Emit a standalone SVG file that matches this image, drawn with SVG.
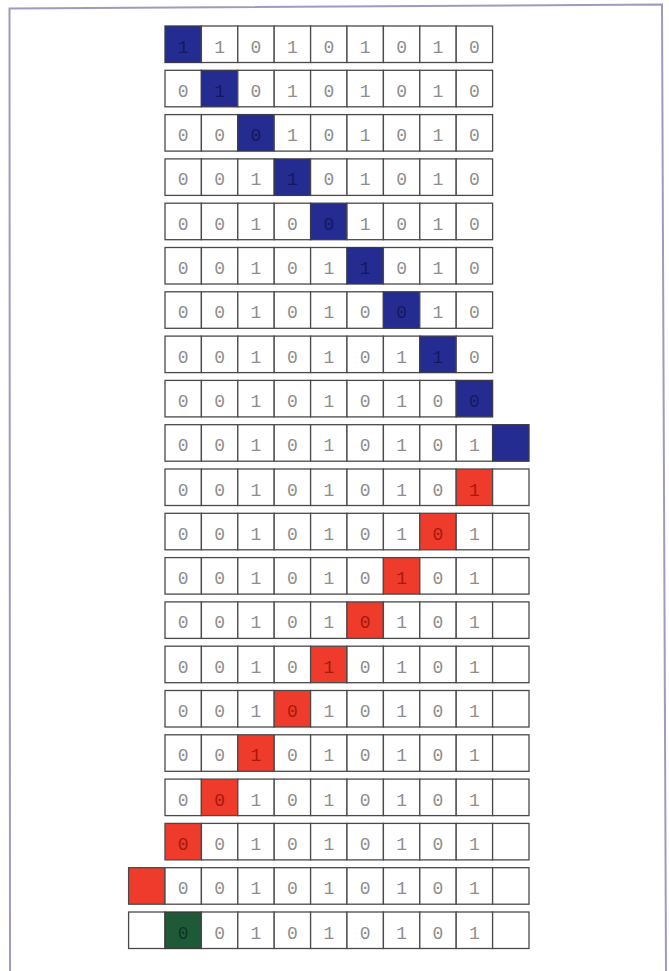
<svg xmlns="http://www.w3.org/2000/svg" width="669" height="971" viewBox="0 0 669 971">
<style>
.c{fill:#fff;stroke:#4a4a4a;stroke-width:1.3}
.b{fill:#242c92;stroke:#3a3a4a;stroke-width:1.3}
.r{fill:#ee3b2b;stroke:#4a4a4a;stroke-width:1.3}
.g{fill:#1f5a38;stroke:#3a3a3a;stroke-width:1.3}
text{font-family:"Liberation Mono","DejaVu Sans Mono",monospace;font-size:18px;fill:#8e8e8e;text-anchor:middle}
text.tb{fill:#14195e}
text.tr{fill:#a8180c}
text.tg{fill:#0e3520}
</style>
<rect width="669" height="971" fill="#fff"/>
<path id="frame" d="M10,971 L9.5,8.5 L662,4.5 L666,971" fill="none" stroke="#9c9cc0" stroke-width="2"/>
<g id="rows">
<g id="row-0" transform="translate(0,26)">
<rect class="b" x="165" y="0" width="36.4" height="36.5"/><rect class="c" x="201.4" y="0" width="36.4" height="36.5"/><rect class="c" x="237.8" y="0" width="36.4" height="36.5"/><rect class="c" x="274.2" y="0" width="36.4" height="36.5"/><rect class="c" x="310.6" y="0" width="36.4" height="36.5"/><rect class="c" x="347" y="0" width="36.4" height="36.5"/><rect class="c" x="383.4" y="0" width="36.4" height="36.5"/><rect class="c" x="419.8" y="0" width="36.4" height="36.5"/><rect class="c" x="456.2" y="0" width="36.4" height="36.5"/>
<text class="tb" x="183.2" y="26.5">1</text><text x="219.6" y="26.5">1</text><text x="256" y="26.5">0</text><text x="292.4" y="26.5">1</text><text x="328.8" y="26.5">0</text><text x="365.2" y="26.5">1</text><text x="401.6" y="26.5">0</text><text x="438" y="26.5">1</text><text x="474.4" y="26.5">0</text>
</g>
<g id="row-1" transform="translate(0,70.3)">
<rect class="c" x="165" y="0" width="36.4" height="36.5"/><rect class="b" x="201.4" y="0" width="36.4" height="36.5"/><rect class="c" x="237.8" y="0" width="36.4" height="36.5"/><rect class="c" x="274.2" y="0" width="36.4" height="36.5"/><rect class="c" x="310.6" y="0" width="36.4" height="36.5"/><rect class="c" x="347" y="0" width="36.4" height="36.5"/><rect class="c" x="383.4" y="0" width="36.4" height="36.5"/><rect class="c" x="419.8" y="0" width="36.4" height="36.5"/><rect class="c" x="456.2" y="0" width="36.4" height="36.5"/>
<text x="183.2" y="26.5">0</text><text class="tb" x="219.6" y="26.5">1</text><text x="256" y="26.5">0</text><text x="292.4" y="26.5">1</text><text x="328.8" y="26.5">0</text><text x="365.2" y="26.5">1</text><text x="401.6" y="26.5">0</text><text x="438" y="26.5">1</text><text x="474.4" y="26.5">0</text>
</g>
<g id="row-2" transform="translate(0,114.6)">
<rect class="c" x="165" y="0" width="36.4" height="36.5"/><rect class="c" x="201.4" y="0" width="36.4" height="36.5"/><rect class="b" x="237.8" y="0" width="36.4" height="36.5"/><rect class="c" x="274.2" y="0" width="36.4" height="36.5"/><rect class="c" x="310.6" y="0" width="36.4" height="36.5"/><rect class="c" x="347" y="0" width="36.4" height="36.5"/><rect class="c" x="383.4" y="0" width="36.4" height="36.5"/><rect class="c" x="419.8" y="0" width="36.4" height="36.5"/><rect class="c" x="456.2" y="0" width="36.4" height="36.5"/>
<text x="183.2" y="26.5">0</text><text x="219.6" y="26.5">0</text><text class="tb" x="256" y="26.5">0</text><text x="292.4" y="26.5">1</text><text x="328.8" y="26.5">0</text><text x="365.2" y="26.5">1</text><text x="401.6" y="26.5">0</text><text x="438" y="26.5">1</text><text x="474.4" y="26.5">0</text>
</g>
<g id="row-3" transform="translate(0,158.9)">
<rect class="c" x="165" y="0" width="36.4" height="36.5"/><rect class="c" x="201.4" y="0" width="36.4" height="36.5"/><rect class="c" x="237.8" y="0" width="36.4" height="36.5"/><rect class="b" x="274.2" y="0" width="36.4" height="36.5"/><rect class="c" x="310.6" y="0" width="36.4" height="36.5"/><rect class="c" x="347" y="0" width="36.4" height="36.5"/><rect class="c" x="383.4" y="0" width="36.4" height="36.5"/><rect class="c" x="419.8" y="0" width="36.4" height="36.5"/><rect class="c" x="456.2" y="0" width="36.4" height="36.5"/>
<text x="183.2" y="26.5">0</text><text x="219.6" y="26.5">0</text><text x="256" y="26.5">1</text><text class="tb" x="292.4" y="26.5">1</text><text x="328.8" y="26.5">0</text><text x="365.2" y="26.5">1</text><text x="401.6" y="26.5">0</text><text x="438" y="26.5">1</text><text x="474.4" y="26.5">0</text>
</g>
<g id="row-4" transform="translate(0,203.2)">
<rect class="c" x="165" y="0" width="36.4" height="36.5"/><rect class="c" x="201.4" y="0" width="36.4" height="36.5"/><rect class="c" x="237.8" y="0" width="36.4" height="36.5"/><rect class="c" x="274.2" y="0" width="36.4" height="36.5"/><rect class="b" x="310.6" y="0" width="36.4" height="36.5"/><rect class="c" x="347" y="0" width="36.4" height="36.5"/><rect class="c" x="383.4" y="0" width="36.4" height="36.5"/><rect class="c" x="419.8" y="0" width="36.4" height="36.5"/><rect class="c" x="456.2" y="0" width="36.4" height="36.5"/>
<text x="183.2" y="26.5">0</text><text x="219.6" y="26.5">0</text><text x="256" y="26.5">1</text><text x="292.4" y="26.5">0</text><text class="tb" x="328.8" y="26.5">0</text><text x="365.2" y="26.5">1</text><text x="401.6" y="26.5">0</text><text x="438" y="26.5">1</text><text x="474.4" y="26.5">0</text>
</g>
<g id="row-5" transform="translate(0,247.5)">
<rect class="c" x="165" y="0" width="36.4" height="36.5"/><rect class="c" x="201.4" y="0" width="36.4" height="36.5"/><rect class="c" x="237.8" y="0" width="36.4" height="36.5"/><rect class="c" x="274.2" y="0" width="36.4" height="36.5"/><rect class="c" x="310.6" y="0" width="36.4" height="36.5"/><rect class="b" x="347" y="0" width="36.4" height="36.5"/><rect class="c" x="383.4" y="0" width="36.4" height="36.5"/><rect class="c" x="419.8" y="0" width="36.4" height="36.5"/><rect class="c" x="456.2" y="0" width="36.4" height="36.5"/>
<text x="183.2" y="26.5">0</text><text x="219.6" y="26.5">0</text><text x="256" y="26.5">1</text><text x="292.4" y="26.5">0</text><text x="328.8" y="26.5">1</text><text class="tb" x="365.2" y="26.5">1</text><text x="401.6" y="26.5">0</text><text x="438" y="26.5">1</text><text x="474.4" y="26.5">0</text>
</g>
<g id="row-6" transform="translate(0,291.8)">
<rect class="c" x="165" y="0" width="36.4" height="36.5"/><rect class="c" x="201.4" y="0" width="36.4" height="36.5"/><rect class="c" x="237.8" y="0" width="36.4" height="36.5"/><rect class="c" x="274.2" y="0" width="36.4" height="36.5"/><rect class="c" x="310.6" y="0" width="36.4" height="36.5"/><rect class="c" x="347" y="0" width="36.4" height="36.5"/><rect class="b" x="383.4" y="0" width="36.4" height="36.5"/><rect class="c" x="419.8" y="0" width="36.4" height="36.5"/><rect class="c" x="456.2" y="0" width="36.4" height="36.5"/>
<text x="183.2" y="26.5">0</text><text x="219.6" y="26.5">0</text><text x="256" y="26.5">1</text><text x="292.4" y="26.5">0</text><text x="328.8" y="26.5">1</text><text x="365.2" y="26.5">0</text><text class="tb" x="401.6" y="26.5">0</text><text x="438" y="26.5">1</text><text x="474.4" y="26.5">0</text>
</g>
<g id="row-7" transform="translate(0,336.1)">
<rect class="c" x="165" y="0" width="36.4" height="36.5"/><rect class="c" x="201.4" y="0" width="36.4" height="36.5"/><rect class="c" x="237.8" y="0" width="36.4" height="36.5"/><rect class="c" x="274.2" y="0" width="36.4" height="36.5"/><rect class="c" x="310.6" y="0" width="36.4" height="36.5"/><rect class="c" x="347" y="0" width="36.4" height="36.5"/><rect class="c" x="383.4" y="0" width="36.4" height="36.5"/><rect class="b" x="419.8" y="0" width="36.4" height="36.5"/><rect class="c" x="456.2" y="0" width="36.4" height="36.5"/>
<text x="183.2" y="26.5">0</text><text x="219.6" y="26.5">0</text><text x="256" y="26.5">1</text><text x="292.4" y="26.5">0</text><text x="328.8" y="26.5">1</text><text x="365.2" y="26.5">0</text><text x="401.6" y="26.5">1</text><text class="tb" x="438" y="26.5">1</text><text x="474.4" y="26.5">0</text>
</g>
<g id="row-8" transform="translate(0,380.4)">
<rect class="c" x="165" y="0" width="36.4" height="36.5"/><rect class="c" x="201.4" y="0" width="36.4" height="36.5"/><rect class="c" x="237.8" y="0" width="36.4" height="36.5"/><rect class="c" x="274.2" y="0" width="36.4" height="36.5"/><rect class="c" x="310.6" y="0" width="36.4" height="36.5"/><rect class="c" x="347" y="0" width="36.4" height="36.5"/><rect class="c" x="383.4" y="0" width="36.4" height="36.5"/><rect class="c" x="419.8" y="0" width="36.4" height="36.5"/><rect class="b" x="456.2" y="0" width="36.4" height="36.5"/>
<text x="183.2" y="26.5">0</text><text x="219.6" y="26.5">0</text><text x="256" y="26.5">1</text><text x="292.4" y="26.5">0</text><text x="328.8" y="26.5">1</text><text x="365.2" y="26.5">0</text><text x="401.6" y="26.5">1</text><text x="438" y="26.5">0</text><text class="tb" x="474.4" y="26.5">0</text>
</g>
<g id="row-9" transform="translate(0,424.7)">
<rect class="c" x="165" y="0" width="36.4" height="36.5"/><rect class="c" x="201.4" y="0" width="36.4" height="36.5"/><rect class="c" x="237.8" y="0" width="36.4" height="36.5"/><rect class="c" x="274.2" y="0" width="36.4" height="36.5"/><rect class="c" x="310.6" y="0" width="36.4" height="36.5"/><rect class="c" x="347" y="0" width="36.4" height="36.5"/><rect class="c" x="383.4" y="0" width="36.4" height="36.5"/><rect class="c" x="419.8" y="0" width="36.4" height="36.5"/><rect class="c" x="456.2" y="0" width="36.4" height="36.5"/><rect class="b" x="492.6" y="0" width="36.4" height="36.5"/>
<text x="183.2" y="26.5">0</text><text x="219.6" y="26.5">0</text><text x="256" y="26.5">1</text><text x="292.4" y="26.5">0</text><text x="328.8" y="26.5">1</text><text x="365.2" y="26.5">0</text><text x="401.6" y="26.5">1</text><text x="438" y="26.5">0</text><text x="474.4" y="26.5">1</text>
</g>
<g id="row-10" transform="translate(0,469)">
<rect class="c" x="165" y="0" width="36.4" height="36.5"/><rect class="c" x="201.4" y="0" width="36.4" height="36.5"/><rect class="c" x="237.8" y="0" width="36.4" height="36.5"/><rect class="c" x="274.2" y="0" width="36.4" height="36.5"/><rect class="c" x="310.6" y="0" width="36.4" height="36.5"/><rect class="c" x="347" y="0" width="36.4" height="36.5"/><rect class="c" x="383.4" y="0" width="36.4" height="36.5"/><rect class="c" x="419.8" y="0" width="36.4" height="36.5"/><rect class="r" x="456.2" y="0" width="36.4" height="36.5"/><rect class="c" x="492.6" y="0" width="36.4" height="36.5"/>
<text x="183.2" y="26.5">0</text><text x="219.6" y="26.5">0</text><text x="256" y="26.5">1</text><text x="292.4" y="26.5">0</text><text x="328.8" y="26.5">1</text><text x="365.2" y="26.5">0</text><text x="401.6" y="26.5">1</text><text x="438" y="26.5">0</text><text class="tr" x="474.4" y="26.5">1</text>
</g>
<g id="row-11" transform="translate(0,513.3)">
<rect class="c" x="165" y="0" width="36.4" height="36.5"/><rect class="c" x="201.4" y="0" width="36.4" height="36.5"/><rect class="c" x="237.8" y="0" width="36.4" height="36.5"/><rect class="c" x="274.2" y="0" width="36.4" height="36.5"/><rect class="c" x="310.6" y="0" width="36.4" height="36.5"/><rect class="c" x="347" y="0" width="36.4" height="36.5"/><rect class="c" x="383.4" y="0" width="36.4" height="36.5"/><rect class="r" x="419.8" y="0" width="36.4" height="36.5"/><rect class="c" x="456.2" y="0" width="36.4" height="36.5"/><rect class="c" x="492.6" y="0" width="36.4" height="36.5"/>
<text x="183.2" y="26.5">0</text><text x="219.6" y="26.5">0</text><text x="256" y="26.5">1</text><text x="292.4" y="26.5">0</text><text x="328.8" y="26.5">1</text><text x="365.2" y="26.5">0</text><text x="401.6" y="26.5">1</text><text class="tr" x="438" y="26.5">0</text><text x="474.4" y="26.5">1</text>
</g>
<g id="row-12" transform="translate(0,557.6)">
<rect class="c" x="165" y="0" width="36.4" height="36.5"/><rect class="c" x="201.4" y="0" width="36.4" height="36.5"/><rect class="c" x="237.8" y="0" width="36.4" height="36.5"/><rect class="c" x="274.2" y="0" width="36.4" height="36.5"/><rect class="c" x="310.6" y="0" width="36.4" height="36.5"/><rect class="c" x="347" y="0" width="36.4" height="36.5"/><rect class="r" x="383.4" y="0" width="36.4" height="36.5"/><rect class="c" x="419.8" y="0" width="36.4" height="36.5"/><rect class="c" x="456.2" y="0" width="36.4" height="36.5"/><rect class="c" x="492.6" y="0" width="36.4" height="36.5"/>
<text x="183.2" y="26.5">0</text><text x="219.6" y="26.5">0</text><text x="256" y="26.5">1</text><text x="292.4" y="26.5">0</text><text x="328.8" y="26.5">1</text><text x="365.2" y="26.5">0</text><text class="tr" x="401.6" y="26.5">1</text><text x="438" y="26.5">0</text><text x="474.4" y="26.5">1</text>
</g>
<g id="row-13" transform="translate(0,601.9)">
<rect class="c" x="165" y="0" width="36.4" height="36.5"/><rect class="c" x="201.4" y="0" width="36.4" height="36.5"/><rect class="c" x="237.8" y="0" width="36.4" height="36.5"/><rect class="c" x="274.2" y="0" width="36.4" height="36.5"/><rect class="c" x="310.6" y="0" width="36.4" height="36.5"/><rect class="r" x="347" y="0" width="36.4" height="36.5"/><rect class="c" x="383.4" y="0" width="36.4" height="36.5"/><rect class="c" x="419.8" y="0" width="36.4" height="36.5"/><rect class="c" x="456.2" y="0" width="36.4" height="36.5"/><rect class="c" x="492.6" y="0" width="36.4" height="36.5"/>
<text x="183.2" y="26.5">0</text><text x="219.6" y="26.5">0</text><text x="256" y="26.5">1</text><text x="292.4" y="26.5">0</text><text x="328.8" y="26.5">1</text><text class="tr" x="365.2" y="26.5">0</text><text x="401.6" y="26.5">1</text><text x="438" y="26.5">0</text><text x="474.4" y="26.5">1</text>
</g>
<g id="row-14" transform="translate(0,646.2)">
<rect class="c" x="165" y="0" width="36.4" height="36.5"/><rect class="c" x="201.4" y="0" width="36.4" height="36.5"/><rect class="c" x="237.8" y="0" width="36.4" height="36.5"/><rect class="c" x="274.2" y="0" width="36.4" height="36.5"/><rect class="r" x="310.6" y="0" width="36.4" height="36.5"/><rect class="c" x="347" y="0" width="36.4" height="36.5"/><rect class="c" x="383.4" y="0" width="36.4" height="36.5"/><rect class="c" x="419.8" y="0" width="36.4" height="36.5"/><rect class="c" x="456.2" y="0" width="36.4" height="36.5"/><rect class="c" x="492.6" y="0" width="36.4" height="36.5"/>
<text x="183.2" y="26.5">0</text><text x="219.6" y="26.5">0</text><text x="256" y="26.5">1</text><text x="292.4" y="26.5">0</text><text class="tr" x="328.8" y="26.5">1</text><text x="365.2" y="26.5">0</text><text x="401.6" y="26.5">1</text><text x="438" y="26.5">0</text><text x="474.4" y="26.5">1</text>
</g>
<g id="row-15" transform="translate(0,690.5)">
<rect class="c" x="165" y="0" width="36.4" height="36.5"/><rect class="c" x="201.4" y="0" width="36.4" height="36.5"/><rect class="c" x="237.8" y="0" width="36.4" height="36.5"/><rect class="r" x="274.2" y="0" width="36.4" height="36.5"/><rect class="c" x="310.6" y="0" width="36.4" height="36.5"/><rect class="c" x="347" y="0" width="36.4" height="36.5"/><rect class="c" x="383.4" y="0" width="36.4" height="36.5"/><rect class="c" x="419.8" y="0" width="36.4" height="36.5"/><rect class="c" x="456.2" y="0" width="36.4" height="36.5"/><rect class="c" x="492.6" y="0" width="36.4" height="36.5"/>
<text x="183.2" y="26.5">0</text><text x="219.6" y="26.5">0</text><text x="256" y="26.5">1</text><text class="tr" x="292.4" y="26.5">0</text><text x="328.8" y="26.5">1</text><text x="365.2" y="26.5">0</text><text x="401.6" y="26.5">1</text><text x="438" y="26.5">0</text><text x="474.4" y="26.5">1</text>
</g>
<g id="row-16" transform="translate(0,734.8)">
<rect class="c" x="165" y="0" width="36.4" height="36.5"/><rect class="c" x="201.4" y="0" width="36.4" height="36.5"/><rect class="r" x="237.8" y="0" width="36.4" height="36.5"/><rect class="c" x="274.2" y="0" width="36.4" height="36.5"/><rect class="c" x="310.6" y="0" width="36.4" height="36.5"/><rect class="c" x="347" y="0" width="36.4" height="36.5"/><rect class="c" x="383.4" y="0" width="36.4" height="36.5"/><rect class="c" x="419.8" y="0" width="36.4" height="36.5"/><rect class="c" x="456.2" y="0" width="36.4" height="36.5"/><rect class="c" x="492.6" y="0" width="36.4" height="36.5"/>
<text x="183.2" y="26.5">0</text><text x="219.6" y="26.5">0</text><text class="tr" x="256" y="26.5">1</text><text x="292.4" y="26.5">0</text><text x="328.8" y="26.5">1</text><text x="365.2" y="26.5">0</text><text x="401.6" y="26.5">1</text><text x="438" y="26.5">0</text><text x="474.4" y="26.5">1</text>
</g>
<g id="row-17" transform="translate(0,779.1)">
<rect class="c" x="165" y="0" width="36.4" height="36.5"/><rect class="r" x="201.4" y="0" width="36.4" height="36.5"/><rect class="c" x="237.8" y="0" width="36.4" height="36.5"/><rect class="c" x="274.2" y="0" width="36.4" height="36.5"/><rect class="c" x="310.6" y="0" width="36.4" height="36.5"/><rect class="c" x="347" y="0" width="36.4" height="36.5"/><rect class="c" x="383.4" y="0" width="36.4" height="36.5"/><rect class="c" x="419.8" y="0" width="36.4" height="36.5"/><rect class="c" x="456.2" y="0" width="36.4" height="36.5"/><rect class="c" x="492.6" y="0" width="36.4" height="36.5"/>
<text x="183.2" y="26.5">0</text><text class="tr" x="219.6" y="26.5">0</text><text x="256" y="26.5">1</text><text x="292.4" y="26.5">0</text><text x="328.8" y="26.5">1</text><text x="365.2" y="26.5">0</text><text x="401.6" y="26.5">1</text><text x="438" y="26.5">0</text><text x="474.4" y="26.5">1</text>
</g>
<g id="row-18" transform="translate(0,823.4)">
<rect class="r" x="165" y="0" width="36.4" height="36.5"/><rect class="c" x="201.4" y="0" width="36.4" height="36.5"/><rect class="c" x="237.8" y="0" width="36.4" height="36.5"/><rect class="c" x="274.2" y="0" width="36.4" height="36.5"/><rect class="c" x="310.6" y="0" width="36.4" height="36.5"/><rect class="c" x="347" y="0" width="36.4" height="36.5"/><rect class="c" x="383.4" y="0" width="36.4" height="36.5"/><rect class="c" x="419.8" y="0" width="36.4" height="36.5"/><rect class="c" x="456.2" y="0" width="36.4" height="36.5"/><rect class="c" x="492.6" y="0" width="36.4" height="36.5"/>
<text class="tr" x="183.2" y="26.5">0</text><text x="219.6" y="26.5">0</text><text x="256" y="26.5">1</text><text x="292.4" y="26.5">0</text><text x="328.8" y="26.5">1</text><text x="365.2" y="26.5">0</text><text x="401.6" y="26.5">1</text><text x="438" y="26.5">0</text><text x="474.4" y="26.5">1</text>
</g>
<g id="row-19" transform="translate(0,867.7)">
<rect class="r" x="128.6" y="0" width="36.4" height="36.5"/><rect class="c" x="165" y="0" width="36.4" height="36.5"/><rect class="c" x="201.4" y="0" width="36.4" height="36.5"/><rect class="c" x="237.8" y="0" width="36.4" height="36.5"/><rect class="c" x="274.2" y="0" width="36.4" height="36.5"/><rect class="c" x="310.6" y="0" width="36.4" height="36.5"/><rect class="c" x="347" y="0" width="36.4" height="36.5"/><rect class="c" x="383.4" y="0" width="36.4" height="36.5"/><rect class="c" x="419.8" y="0" width="36.4" height="36.5"/><rect class="c" x="456.2" y="0" width="36.4" height="36.5"/><rect class="c" x="492.6" y="0" width="36.4" height="36.5"/>
<text x="183.2" y="26.5">0</text><text x="219.6" y="26.5">0</text><text x="256" y="26.5">1</text><text x="292.4" y="26.5">0</text><text x="328.8" y="26.5">1</text><text x="365.2" y="26.5">0</text><text x="401.6" y="26.5">1</text><text x="438" y="26.5">0</text><text x="474.4" y="26.5">1</text>
</g>
<g id="row-20" transform="translate(0,912)">
<rect class="c" x="128.6" y="0" width="36.4" height="36.5"/><rect class="g" x="165" y="0" width="36.4" height="36.5"/><rect class="c" x="201.4" y="0" width="36.4" height="36.5"/><rect class="c" x="237.8" y="0" width="36.4" height="36.5"/><rect class="c" x="274.2" y="0" width="36.4" height="36.5"/><rect class="c" x="310.6" y="0" width="36.4" height="36.5"/><rect class="c" x="347" y="0" width="36.4" height="36.5"/><rect class="c" x="383.4" y="0" width="36.4" height="36.5"/><rect class="c" x="419.8" y="0" width="36.4" height="36.5"/><rect class="c" x="456.2" y="0" width="36.4" height="36.5"/><rect class="c" x="492.6" y="0" width="36.4" height="36.5"/>
<text class="tg" x="183.2" y="26.5">0</text><text x="219.6" y="26.5">0</text><text x="256" y="26.5">1</text><text x="292.4" y="26.5">0</text><text x="328.8" y="26.5">1</text><text x="365.2" y="26.5">0</text><text x="401.6" y="26.5">1</text><text x="438" y="26.5">0</text><text x="474.4" y="26.5">1</text>
</g>
</g>
</svg>
